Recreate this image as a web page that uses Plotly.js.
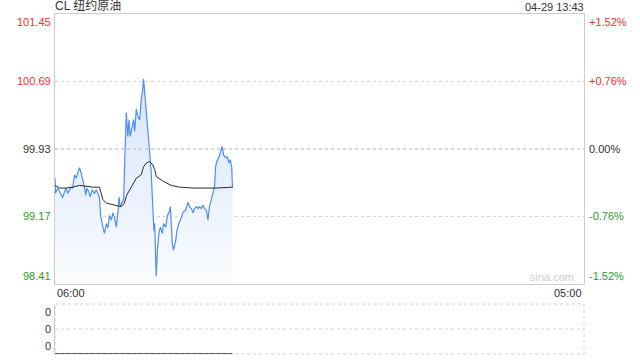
<!DOCTYPE html>
<html>
<head>
<meta charset="utf-8">
<script src="https://cdn.plot.ly/plotly-3.0.1.min.js"></script>
<style>
  html, body { margin: 0; padding: 0; background: #fff; }
  #chart { width: 640px; height: 360px; }
</style>
</head>
<body>
<div id="chart"></div>
<script>
// ---- data (minutes after 06:00) ----
const times = [0,1,7,16,20,25,29,33,38,42,46,51,55,60,64,68,73,77,80,83,88,92,97,103,108,112,116,119,121,125,129,134,138,142,147,151,155,160,164,167,170,175,179,182,184,186,190,193,196,202,205,208,212,216,221,225,228,231,234,238,242,247,251,255,258,260,262,264,267,271,275,280,283,289,293,297,301,303,306,309,315,318,323,330,334,341,347,351,356,360,364,369,373,377,382,386,390,395,399,403,408,412,416,419,422,428,432,436,440,445,450,454,457,461,463];
const prices = [99.60,99.43,99.49,99.41,99.38,99.45,99.49,99.43,99.47,99.50,99.49,99.64,99.60,99.66,99.72,99.66,99.58,99.50,99.41,99.49,99.45,99.39,99.47,99.43,99.47,99.43,99.38,99.18,99.13,99.05,98.98,99.09,99.04,99.18,99.13,99.21,99.16,99.05,99.21,99.39,99.28,99.32,99.36,99.81,100.04,100.34,100.07,100.26,100.07,100.18,100.26,100.13,100.38,100.30,100.26,100.49,100.57,100.72,100.57,100.41,100.18,99.89,99.66,99.28,99.01,99.09,98.82,98.50,98.79,98.98,99.05,98.98,99.09,99.05,99.18,99.21,99.28,99.05,98.87,98.79,98.90,99.01,99.09,99.16,99.22,99.24,99.33,99.28,99.26,99.21,99.26,99.28,99.26,99.28,99.26,99.30,99.26,99.24,99.13,99.28,99.36,99.43,99.50,99.73,99.79,99.84,99.89,99.96,99.86,99.83,99.84,99.77,99.81,99.73,99.49];
const avgTimes = [0,12,29,46,64,81,99,116,125,134,151,173,181,187,199,212,225,231,238,247,255,260,264,281,303,325,360,395,421,463];
const avgPrices = [99.52,99.49,99.49,99.50,99.52,99.51,99.50,99.50,99.36,99.32,99.30,99.28,99.32,99.41,99.50,99.60,99.64,99.73,99.77,99.79,99.75,99.70,99.62,99.57,99.52,99.50,99.49,99.49,99.49,99.50];
const volTimes = [0, 463];
const volValues = [0, 0];

const prevClose = 99.93;
const yTicks = [101.45, 100.69, 99.93, 99.17, 98.41];
const yTickLabels = ['101.45', '100.69', '99.93', '99.17', '98.41'];
const pctLabels = ['+1.52%', '+0.76%', '0.00%', '-0.76%', '-1.52%'];
const xTickVals = [0, 1380];
const xTickLabels = ['06:00', '05:00'];
const volTickVals = [1, 0.5, 0];
const volTickLabels = ['0', '0', '0'];
const titleText = 'CL 纽约原油';
const stampText = '04-29 13:43';

// ---- styles ----
const FONT = 'Arial, "Liberation Sans", "Noto Sans CJK SC", sans-serif';
const RED = '#ef3030', GREEN = '#1f9e1f', DARK = '#333333';
const MAIN_BOTTOM = 0.206, VOL_TOP = 0.147;

function tickColor(v) { return v > prevClose + 1e-9 ? RED : (v < prevClose - 1e-9 ? GREEN : DARK); }

const traces = [
  {
    x: times, y: prices, type: 'scatter', mode: 'lines',
    line: { color: '#4f8ef0', width: 1.2 },
    fill: 'tozeroy',
    fillgradient: { type: 'vertical', start: 98.41, stop: 100.75,
      colorscale: [[0, 'rgba(250,252,255,1)'], [1, 'rgba(214,228,251,1)']] },
    xaxis: 'x', yaxis: 'y', hoverinfo: 'skip'
  },
  {
    x: avgTimes, y: avgPrices, type: 'scatter', mode: 'lines',
    line: { color: '#2a2a2a', width: 1 }, xaxis: 'x', yaxis: 'y', hoverinfo: 'skip'
  },
  {
    x: volTimes, y: volValues, type: 'scatter', mode: 'lines',
    line: { color: '#666', width: 2 }, xaxis: 'x2', yaxis: 'y2', hoverinfo: 'skip'
  }
];

const annotations = [];
yTicks.forEach((v, i) => {
  const ya = i === 0 ? 'top' : (i === yTicks.length - 1 ? 'bottom' : 'middle');
  const c = tickColor(v);
  annotations.push({ xref: 'paper', yref: 'y', x: 0, y: v, xanchor: 'right', yanchor: ya,
    xshift: -2, text: yTickLabels[i], showarrow: false, font: { family: FONT, size: 11, color: c } });
  annotations.push({ xref: 'paper', yref: 'y', x: 1, y: v, xanchor: 'left', yanchor: ya,
    xshift: 3, text: pctLabels[i], showarrow: false, font: { family: FONT, size: 11, color: c } });
});
xTickVals.forEach((v, i) => {
  annotations.push({ xref: 'x', yref: 'paper', x: v, y: MAIN_BOTTOM, xanchor: i === 0 ? 'left' : 'right',
    yanchor: 'top', yshift: -1, text: xTickLabels[i], showarrow: false, font: { family: FONT, size: 11, color: DARK } });
});
volTickVals.forEach((v, i) => {
  const ya = i === 0 ? 'top' : (i === volTickVals.length - 1 ? 'bottom' : 'middle');
  annotations.push({ xref: 'paper', yref: 'y2', x: 0, y: v, xanchor: 'right', yanchor: ya,
    xshift: -2, text: volTickLabels[i], showarrow: false, font: { family: FONT, size: 11, color: DARK } });
});
annotations.push({ xref: 'paper', yref: 'paper', x: 0, y: 1, xanchor: 'left', yanchor: 'bottom',
  xshift: -2, yshift: -1, text: titleText, showarrow: false, font: { family: FONT, size: 12, color: DARK } });
annotations.push({ xref: 'paper', yref: 'paper', x: 1, y: 1, xanchor: 'right', yanchor: 'bottom',
  xshift: 2, yshift: -1, text: stampText, showarrow: false, font: { family: FONT, size: 11, color: DARK } });
annotations.push({ xref: 'paper', yref: 'paper', x: 1, y: MAIN_BOTTOM, xanchor: 'right', yanchor: 'bottom',
  xshift: -8, yshift: -1, text: 'sina.com', showarrow: false, font: { family: FONT, size: 11, color: '#cccccc' } });

const layout = {
  width: 640, height: 360,
  margin: { l: 55, r: 56, t: 14, b: 6, pad: 0 },
  paper_bgcolor: '#fff', plot_bgcolor: '#fff',
  showlegend: false,
  font: { family: FONT, size: 11, color: DARK },
  xaxis: { domain: [0, 1], range: [0, 1380], anchor: 'y', showline: true, mirror: true,
    linecolor: '#cccccc', linewidth: 1, showgrid: false, zeroline: false, showticklabels: false, ticks: '' },
  yaxis: { domain: [MAIN_BOTTOM, 1], range: [98.41, 101.45], anchor: 'x', showline: true, mirror: true,
    linecolor: '#cccccc', linewidth: 1, tickvals: [100.69, 99.17], showgrid: true, gridcolor: '#d4d4d4',
    griddash: 'dot', gridwidth: 1, zeroline: false, showticklabels: false, ticks: '' },
  xaxis2: { domain: [0, 1], range: [0, 1380], anchor: 'y2', showline: false, showgrid: false,
    zeroline: false, showticklabels: false, ticks: '' },
  yaxis2: { domain: [0, VOL_TOP], range: [0, 1], anchor: 'x2', showline: true, linecolor: '#cccccc',
    showgrid: false, zeroline: false, showticklabels: false, ticks: '' },
  shapes: [
    { type: 'line', xref: 'x domain', yref: 'y', x0: 0, x1: 1, y0: prevClose, y1: prevClose,
      line: { color: '#b0b0b0', width: 1, dash: 'dot' } },
    { type: 'rect', xref: 'x2 domain', yref: 'y2 domain', x0: 0, x1: 1, y0: 0, y1: 1,
      line: { color: '#cfcfcf', width: 1, dash: 'dot' }, layer: 'below' },
    { type: 'line', xref: 'x2 domain', yref: 'y2 domain', x0: 0, x1: 1, y0: 0.5, y1: 0.5,
      line: { color: '#cfcfcf', width: 1, dash: 'dot' }, layer: 'below' }
  ],
  annotations: annotations
};

Plotly.newPlot('chart', traces, layout, { staticPlot: true, displayModeBar: false });
</script>
</body>
</html>
